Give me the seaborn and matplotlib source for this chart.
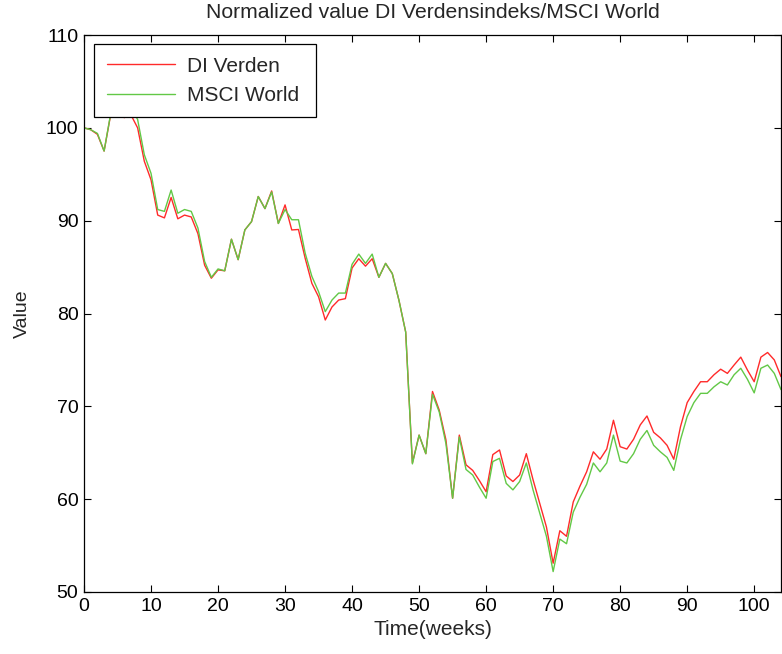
import numpy as np
import pandas as pd
import matplotlib
matplotlib.use("Agg")
import matplotlib.pyplot as plt
import seaborn as sns

weeks = list(range(0, 106))
di_verden = [
    100.0, 99.8, 99.3, 97.5, 101.5, 102.3, 101.1, 101.4, 100.0, 96.4,
    94.4, 90.6, 90.3, 92.5, 90.2, 90.6, 90.4, 88.6, 85.2, 83.8,
    84.7, 84.6, 88.0, 85.8, 89.0, 89.9, 92.6, 91.3, 93.2, 89.7,
    91.7, 89.0, 89.05, 85.95, 83.25, 81.8, 79.3, 80.7, 81.45, 81.6,
    84.9, 85.9, 85.1, 85.9, 83.9, 85.4, 84.3, 81.4, 78.0, 63.9,
    66.9, 64.9, 71.6, 69.6, 66.4, 60.1, 66.9, 63.7, 63.1, 62.0,
    60.8, 64.8, 65.3, 62.5, 61.9, 62.6, 64.9, 62.1, 59.55, 57.0,
    53.1, 56.6, 56.0, 59.7, 61.4, 62.95, 65.1, 64.3, 65.4, 68.5,
    65.65, 65.4, 66.45, 68.0, 68.96, 67.2, 66.6, 65.8, 64.3, 67.8,
    70.4, 71.6, 72.65, 72.65, 73.4, 74.0, 73.55, 74.45, 75.3, 73.9,
    72.65, 75.3, 75.8, 75.0, 73.2, 74.0,
]
msci_world = [
    100.0, 99.8, 99.4, 97.5, 101.6, 102.5, 101.8, 102.2, 100.9, 97.1,
    95.1, 91.2, 91.0, 93.3, 90.8, 91.2, 91.0, 89.2, 85.6, 83.9,
    84.8, 84.6, 88.0, 85.8, 89.0, 89.9, 92.6, 91.3, 93.1, 89.7,
    91.2, 90.1, 90.1, 86.5, 84.0, 82.35, 80.2, 81.45, 82.2, 82.2,
    85.3, 86.4, 85.4, 86.4, 83.9, 85.4, 84.3, 81.4, 78.0, 63.8,
    66.9, 64.9, 71.3, 69.4, 66.0, 60.1, 66.7, 63.2, 62.6, 61.3,
    60.1, 64.05, 64.4, 61.7, 61.0, 61.9, 63.9, 61.0, 58.5, 56.0,
    52.2, 55.7, 55.2, 58.6, 60.2, 61.6, 63.9, 62.95, 63.9, 66.9,
    64.1, 63.9, 64.9, 66.45, 67.4, 65.8, 65.1, 64.5, 63.1, 66.4,
    68.9, 70.4, 71.4, 71.4, 72.1, 72.65, 72.3, 73.4, 74.1, 72.9,
    71.45, 74.1, 74.45, 73.55, 71.8, 72.6,
]
series_names = ["DI Verden", "MSCI World"]
x_ticks = list(range(0, 101, 10))
y_ticks = list(range(50, 111, 10))

df = pd.DataFrame({
    "week": weeks * 2,
    "value": di_verden + msci_world,
    "series": [series_names[0]] * len(weeks) + [series_names[1]] * len(weeks),
})

sns.set_style("ticks")
plt.rcParams["font.family"] = ["Liberation Sans", "DejaVu Sans"]

fig = plt.figure(figsize=(7.82, 6.54), dpi=100)
ax = fig.add_axes([84 / 782, 1 - 592 / 654, 697 / 782, 557 / 654])

palette = {"DI Verden": "#ff2a2a", "MSCI World": "#62c846"}
sns.lineplot(data=df, x="week", y="value", hue="series", palette=palette,
             linewidth=1.0, ax=ax, legend=True)

ax.set_xlim(0, 104)
ax.set_ylim(50, 110)
ax.set_xticks(x_ticks)
ax.set_yticks(y_ticks)
ax.tick_params(direction="in", top=True, right=True, length=5, width=0.8,
               labelsize=14, colors="black", pad=4)
for s in ax.spines.values():
    s.set_visible(True)
    s.set_color("black")
    s.set_linewidth(0.9)

ax.set_title("Normalized value DI Verdensindeks/MSCI World", fontsize=15.2, pad=12)
ax.set_xlabel("Time(weeks)", fontsize=15, labelpad=4)
ax.set_ylabel("Value", fontsize=14, labelpad=11)

lx0 = (94 - 84) / 697
ly1 = (592 - 44) / 557
lw = (316 - 94) / 697
lh = (115 - 44) / 557
leg = ax.legend(loc="upper left", bbox_to_anchor=(lx0, ly1 - lh, lw, lh),
                mode="expand", fontsize=15,
                frameon=True, fancybox=False, handlelength=3.3, borderpad=0.6,
                labelspacing=0.5, handletextpad=0.55, borderaxespad=0)
leg.get_frame().set_edgecolor("black")
leg.get_frame().set_linewidth(0.9)
leg.get_frame().set_alpha(1)
leg.set_zorder(5)

fig.savefig("out.png", dpi=100, facecolor="white")
